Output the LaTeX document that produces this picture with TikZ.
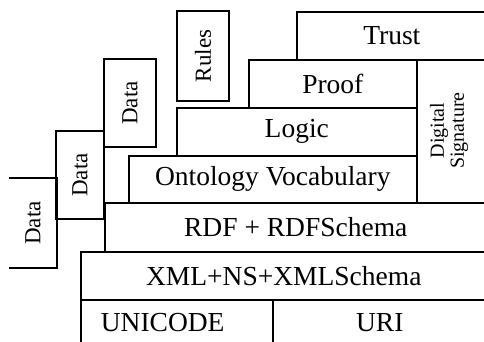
\documentclass[tikz,border=0pt]{standalone}
\usepackage{fontspec}
\setmainfont{Liberation Serif}
\tikzset{
	layer/.style={draw, line width=1.6pt, inner sep=0pt, anchor=north west, font=\fontsize{27.5}{30}\selectfont},
	side/.style={draw, line width=1.6pt, inner sep=0pt, rotate=90, font=\fontsize{23}{26}\selectfont},
}
\begin{document}
\begin{tikzpicture}[x=1pt,y=-1pt]
			\useasboundingbox (0,0) rectangle (484,341);
			\clip (0,0) rectangle (484,341);
			% stack, top to bottom
			\node[layer, minimum width=190, minimum height=48] (trust) at (296,11) {Trust};
			\node[layer, minimum width=168, minimum height=48] (proof) at (248,59) {Proof};
			\node[layer, minimum width=240, minimum height=48] (logic) at (176,107) {Logic};
			\node[layer, minimum width=288, minimum height=47] (onto) at (128,155) {Ontology Vocabulary};
			\node[layer, minimum width=382, minimum height=49] (rdf) at (104,202) {RDF + RDFSchema};
			\node[layer, minimum width=406, minimum height=48] (xml) at (80,251) {XML+NS+XMLSchema};
			\node[layer, inner xsep=20pt, text width=152pt, align=left, minimum height=46] (unicode) at (80,299) {UNICODE};
			\node[layer, minimum width=214, minimum height=46] (uri) at (272,299) {URI};
			% side boxes
			\node[layer, minimum width=80, minimum height=143] (sig) at (416,59) {};
			\node[rotate=90, align=center, inner sep=0pt, font=\fontsize{20}{20}\selectfont] (sigtext) at (449,130.5) {Digital\\Signature};
			\node[side, minimum width=90, minimum height=52] (rules) at (203,56) {Rules};
			\node[side, minimum width=88, minimum height=52] (data3) at (130,103) {Data};
			\node[side, minimum width=88, minimum height=48] (data2) at (80,175) {Data};
			\node[side, draw=none, minimum width=88, minimum height=46] (data1) at (33,223) {Data};
			\draw[line width=1.6pt] (data1.north east) -- (data1.south east) -- (data1.south west) -- (data1.north west);
\end{tikzpicture}
\end{document}
